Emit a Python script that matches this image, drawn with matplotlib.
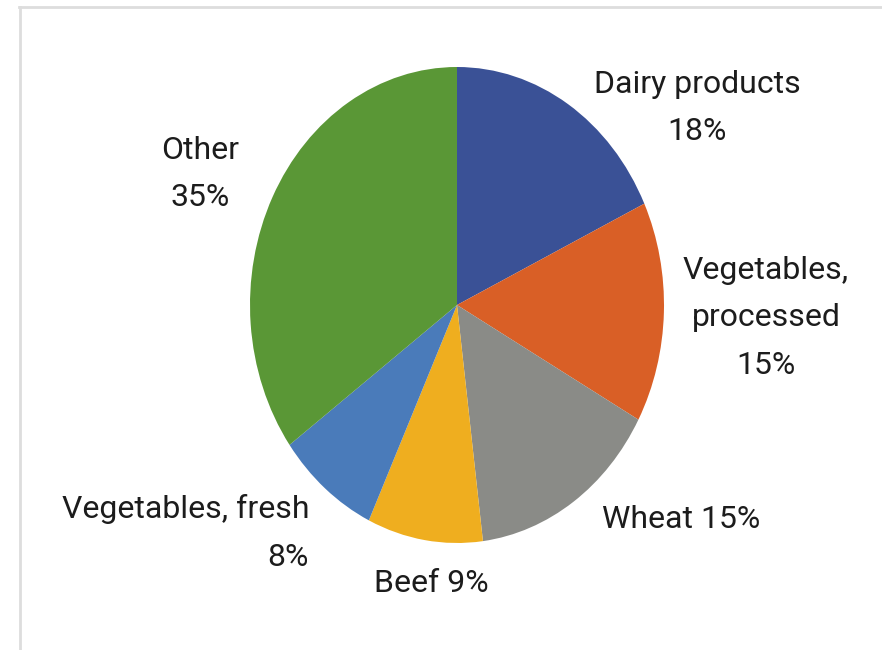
import matplotlib
matplotlib.use("Agg")
import matplotlib.pyplot as plt
from matplotlib.lines import Line2D

# share of total, clockwise from 12 o'clock
categories = ["Dairy products", "Vegetables, processed", "Wheat", "Beef",
              "Vegetables, fresh", "Other"]
shares = [18, 15, 15, 9, 8, 35]
colors = ["#3a5196", "#d95f26", "#8a8b87", "#efae1f", "#4a7bba", "#5a9736"]

W, H = 882, 650
fig = plt.figure(figsize=(W / 100, H / 100), dpi=100)

# pie is slightly taller than wide, so give it its own axes with free aspect
cx, cy, rx, ry = 457, 305, 207, 238
ax = fig.add_axes([(cx - rx) / W, (H - cy - ry) / H, 2 * rx / W, 2 * ry / H])
ax.pie(shares, colors=colors, startangle=90, counterclock=False,
       wedgeprops=dict(linewidth=0))
ax.set_aspect("auto")
ax.set_xlim(-1, 1)
ax.set_ylim(-1, 1)
ax.axis("off")

# overlay in pixel coords for labels and the thin frame
tx = fig.add_axes([0, 0, 1, 1], facecolor="none")
tx.set_xlim(0, W)
tx.set_ylim(H, 0)
tx.axis("off")

frame = "#dddddd"
tx.add_line(Line2D([19, W], [7, 7], color=frame, lw=2))
tx.add_line(Line2D([20, 20], [7, H], color=frame, lw=2))

font = dict(family=["Roboto", "DejaVu Sans"], fontsize=23, fontweight="normal",
            color="#1c1c1c", linespacing=1.8)

def pct(i):
    return f"{shares[i]}%"

tx.text(697, 108, f"Dairy products\n{pct(0)}", ha="center", va="center", **font)
tx.text(766, 318, f"Vegetables,\nprocessed\n{pct(1)}", ha="center", va="center", **font)
tx.text(681, 520, f"{categories[2]} {pct(2)}", ha="center", va="center", **font)
tx.text(431, 583, f"{categories[3]} {pct(3)}", ha="center", va="center", **font)
tx.text(309, 533, f"{categories[4]}\n{pct(4)}", ha="right", va="center",
        multialignment="right", **font)
tx.text(200, 174, f"{categories[5]}\n{pct(5)}", ha="center", va="center", **font)

fig.savefig("out.png", dpi=100)
